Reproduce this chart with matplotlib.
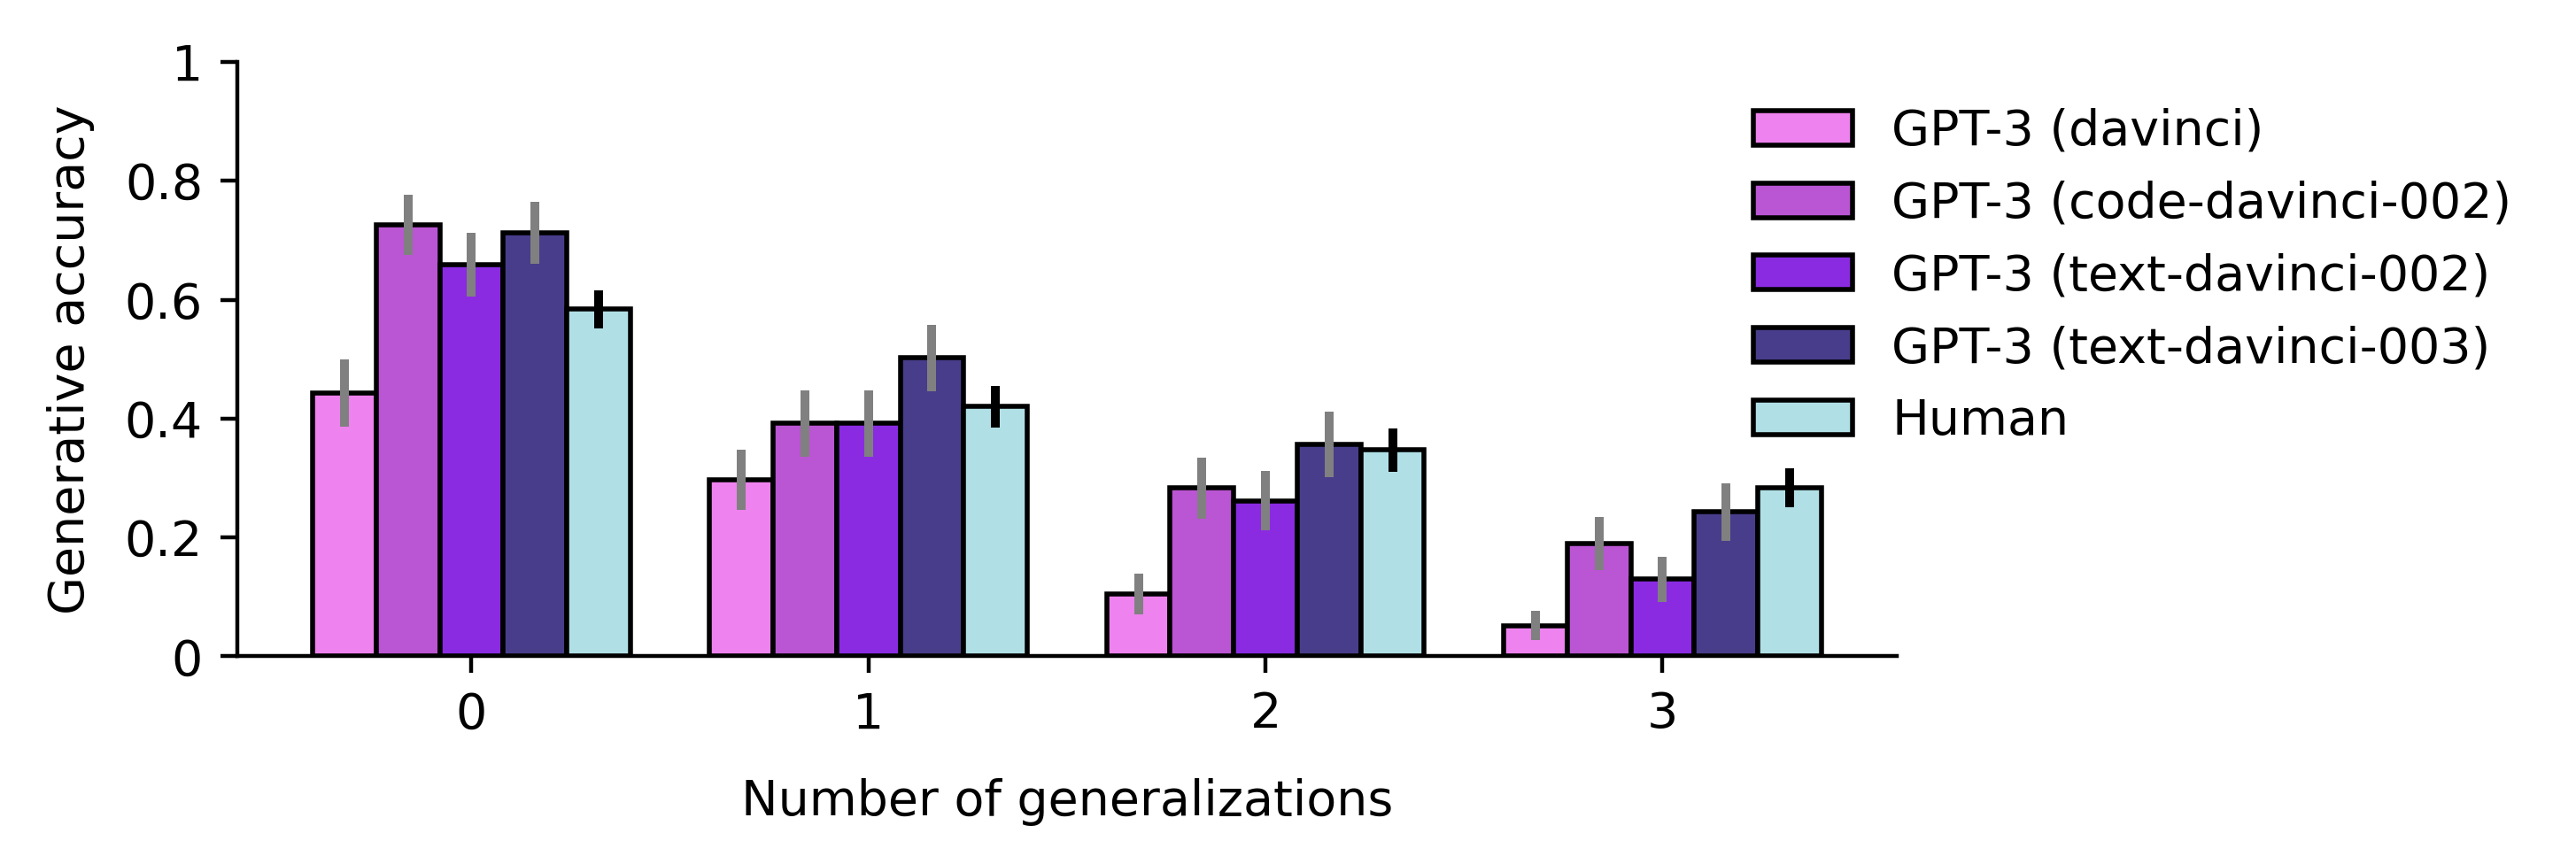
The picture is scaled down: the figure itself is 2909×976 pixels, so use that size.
import numpy as np
import matplotlib.pyplot as plt

# values
n_gen = [0, 1, 2, 3]
models = ['GPT-3 (davinci)', 'GPT-3 (code-davinci-002)', 'GPT-3 (text-davinci-002)',
          'GPT-3 (text-davinci-003)', 'Human']
colors = ['violet', 'mediumorchid', 'blueviolet', 'darkslateblue', 'powderblue']
err_colors = ['gray', 'gray', 'gray', 'gray', 'black']

davinci = [0.443, 0.297, 0.105, 0.052]
code_002 = [0.726, 0.392, 0.283, 0.190]
text_002 = [0.659, 0.392, 0.262, 0.130]
text_003 = [0.712, 0.502, 0.356, 0.243]
human = [0.584, 0.420, 0.347, 0.284]

davinci_err = [0.057, 0.051, 0.034, 0.025]
code_002_err = [0.050, 0.056, 0.051, 0.045]
text_002_err = [0.053, 0.056, 0.050, 0.038]
text_003_err = [0.052, 0.056, 0.055, 0.048]
human_err = [0.032, 0.035, 0.036, 0.033]

means = [davinci, code_002, text_002, text_003, human]
errs = [davinci_err, code_002_err, text_002_err, text_003_err, human_err]

fig = plt.figure(figsize=(2909 / 400, 976 / 400), dpi=400)
ax = fig.add_axes([0.0921, 0.2403, 0.6442, 0.688])

width = 0.16
x = np.arange(len(n_gen))
for i in range(len(models)):
    pos = x + (i - 2) * width
    ax.bar(pos, means[i], width, color=colors[i], edgecolor='black', linewidth=1,
           label=models[i], zorder=2)
    ax.errorbar(pos, means[i], yerr=errs[i], fmt='none', ecolor=err_colors[i],
                elinewidth=1.8, capsize=0, zorder=3)

ax.set_xlim(-0.59, 3.59)
ax.set_ylim(0, 1)
ax.set_xticks(x)
ax.set_xticklabels([str(g) for g in n_gen])
ax.set_yticks([0, 0.2, 0.4, 0.6, 0.8, 1])
ax.set_yticklabels(['0', '0.2', '0.4', '0.6', '0.8', '1'])
ax.set_xlabel('Number of generalizations', labelpad=8)
ax.set_ylabel('Generative accuracy', labelpad=6)
ax.spines['top'].set_visible(False)
ax.spines['right'].set_visible(False)

ax.legend(frameon=False, loc='upper left', bbox_to_anchor=(0.902, 0.956), borderaxespad=0)

fig.savefig('out.png', dpi=400)
